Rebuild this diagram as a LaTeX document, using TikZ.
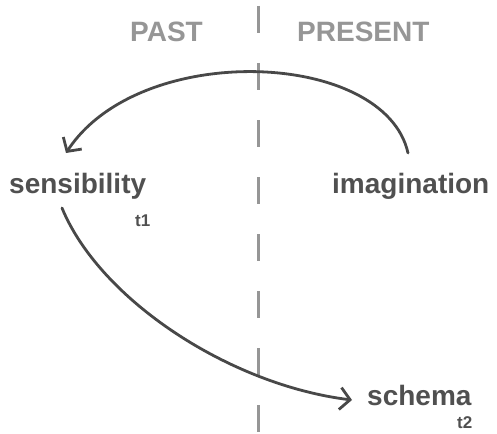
\documentclass[tikz,border=0pt]{standalone}
\usepackage{fontspec}
\setmainfont{Liberation Sans}
\usetikzlibrary{arrows.meta}
\definecolor{inkc}{RGB}{72,72,72}
\definecolor{headc}{RGB}{150,150,150}
\definecolor{wordc}{RGB}{80,80,80}
\tikzset{
  word/.style={font=\fontsize{28}{30}\selectfont\bfseries, text=wordc, inner sep=0pt, anchor=base west},
  small/.style={font=\fontsize{17}{19}\selectfont\bfseries, text=wordc, inner sep=0pt, anchor=base west},
  head/.style={font=\fontsize{28}{30}\selectfont\bfseries, text=headc, inner sep=0pt, anchor=base west},
  divider/.style={draw=headc, line width=3pt, dash pattern=on 27pt off 30pt},
  flow/.style={draw=inkc, line width=2.8pt, line cap=round, -{Straight Barb[length=10pt,width=22pt,line width=2.8pt]}}
}
\begin{document}
\begin{tikzpicture}[x=1pt,y=-1pt]
\useasboundingbox (0,0) rectangle (497,433);
\coordinate (dtop) at (258,6);
\coordinate (dbot) at (258,433);
\draw[divider] (dtop) -- (dbot);
\node[head] (past) at (130,42) {PAST};
\node[head] (present) at (297,42) {PRESENT};
\node[word] (sens) at (9,193) {sensibility};
\node[word] (imag) at (332,193) {imagination};
\node[word] (schema) at (367,405) {schema};
\node[small] (t1) at (135,226) {t1};
\node[small] (t2) at (457,428) {t2};
\coordinate (a1s) at (408,153);
\coordinate (a1e) at (66,153);
\coordinate (a2s) at (62,208);
\coordinate (a2e) at (352,400);
\draw[flow] (a1s) .. controls (385,50) and (140,40) .. (a1e);
\draw[flow] (a2s) .. controls (100,300) and (230,385) .. (a2e);
\end{tikzpicture}
\end{document}
